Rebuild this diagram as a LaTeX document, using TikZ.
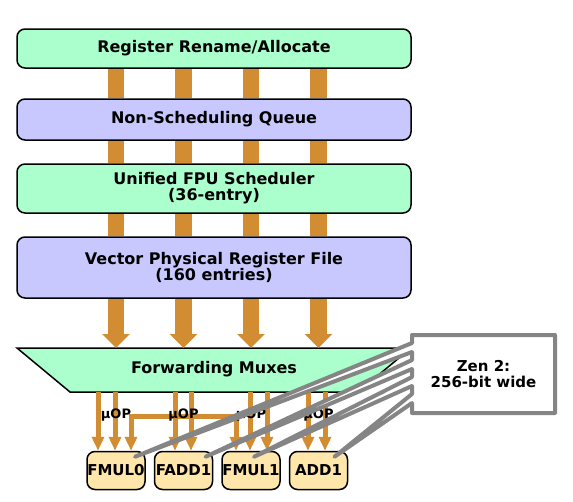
\documentclass[tikz,border=0pt]{standalone}
\usepackage{fontspec}
\setmainfont{DejaVu Sans}
\usetikzlibrary{arrows.meta,positioning,calc,shapes.geometric}
\definecolor{mint}{HTML}{AAFFCC}
\definecolor{lilac}{HTML}{C8C8FF}
\definecolor{unit}{HTML}{FFE6AA}
\definecolor{wire}{HTML}{D28C32}
\definecolor{callout}{HTML}{858585}

\begin{document}
\begin{tikzpicture}[x=1pt,y=-1pt,
  stage/.style={draw,line width=1.5pt,rounded corners=8pt,minimum width=394pt,
    inner sep=0pt,align=center,font=\fontsize{16}{16}\selectfont\bfseries},
  fu/.style={draw,fill=unit,line width=1.5pt,rounded corners=8pt,minimum width=58pt,
    minimum height=38pt,inner sep=0pt,font=\fontsize{15}{15}\selectfont\bfseries},
  lane/.style={wire,line width=16.7pt},
  feed/.style={wire,line width=5pt,-{Triangle[width=12pt,length=14pt]}},
  uop/.style={font=\fontsize{13}{13}\selectfont\bfseries,inner sep=0pt}]
  \useasboundingbox (0,0) rectangle (573,501);

  % Pipeline stages
  \node[stage,fill=mint,minimum height=39pt] (rename) at (214,48.5) {Register Rename/Allocate};
  \node[stage,fill=lilac,minimum height=41pt,below=29.5pt of rename] (queue) {Non-Scheduling Queue};
  \node[stage,fill=mint,minimum height=49pt,below=22.5pt of queue] (sched) {Unified FPU Scheduler\\(36-entry)};
  \node[stage,fill=lilac,minimum height=61pt,below=22.5pt of sched] (vprf) {Vector Physical Register File\\(160 entries)};

  % Forwarding muxes
  \node[minimum width=394pt,minimum height=44pt,inner sep=0pt,outer sep=0pt,
    font=\fontsize{16}{16}\selectfont\bfseries] (mux) at (214,370) {};
  \draw[fill=mint,line width=1.5pt] (mux.north west) -- (mux.north east)
    -- ($(mux.south east)+(-53,0)$) -- ($(mux.south west)+(53,0)$) -- cycle;
  \node[font=\fontsize{16}{16}\selectfont\bfseries] (muxtext) at ([yshift=1pt]mux) {Forwarding Muxes};

  % Execution units
  \node[fu] (fmul0) at (116,470.5) {FMUL0};
  \node[fu,right=8pt of fmul0] (fadd1) {FADD1};
  \node[fu,right=8pt of fadd1] (fmul1) {FMUL1};
  \node[fu,right=8pt of fmul1] (add1) {ADD1};

  % Lanes between the stages
  \foreach \a/\b in {rename/queue,queue/sched,sched/vprf}{
    \foreach \n in {fmul0,fadd1,fmul1,add1}
      \draw[lane] (\a.south -| \n) -- (\b.north -| \n);
  }
  \foreach \n in {fmul0,fadd1,fmul1,add1}
    \draw[lane,-{Triangle[width=27pt,length=14pt]}] (vprf.south -| \n) -- (mux.north -| \n);

  % uOP feeds
  \foreach \x/\n in {98/fmul0,115/fmul0,175/fadd1,191/fadd1,250/fmul1,267/fmul1,308/add1,325/add1}
    \draw[feed] (mux.south -| \x,0) -- (\n.north -| \x,0);
  \coordinate (xbarL) at ($(fmul0.north)+(15,-34)$);
  \coordinate (xbarR) at ($(fmul1.north)+(-15,-34)$);
  \draw[feed] (xbarR) -- (xbarL) -- (fmul0.north -| xbarL);
  \draw[feed] (xbarL) -- (xbarR) -- (fmul1.north -| xbarR);
  \foreach \n in {fmul0,fadd1,fmul1,add1}
    \node[uop] at ([yshift=36pt]\n.north) {µOP};

  % Callout
  \node[minimum width=143pt,minimum height=78pt,inner sep=0pt,outer sep=0pt] (zen) at (483.5,374) {};
  \coordinate (tip0) at ($(fmul0.north)+(19,6)$);
  \coordinate (tip1) at ($(fadd1.north)+(22,6)$);
  \coordinate (tip2) at ($(fmul1.north)+(3,6)$);
  \coordinate (tip3) at ($(add1.north)+(16,6)$);
  \draw[callout,fill=white,line width=4pt,line join=round]
    (zen.north west) -- (zen.north east) -- (zen.south east) -- (zen.south west)
    -- ($(zen.north west)+(0,68)$) -- (tip3) -- ($(zen.north west)+(0,59)$)
    -- ($(zen.north west)+(0,51)$) -- (tip2) -- ($(zen.north west)+(0,42)$)
    -- ($(zen.north west)+(0,34)$) -- (tip1) -- ($(zen.north west)+(0,25)$)
    -- ($(zen.north west)+(0,17)$) -- (tip0) -- ($(zen.north west)+(0,8)$) -- cycle;
  \node[align=center,font=\fontsize{15}{15.5}\selectfont\bfseries] (zentext) at (zen) {Zen 2:\\256-bit wide};
\end{tikzpicture}
\end{document}
